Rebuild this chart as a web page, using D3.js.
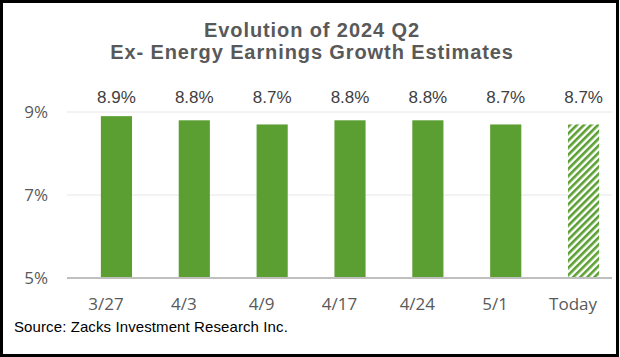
<!DOCTYPE html>
<html><head><meta charset="utf-8">
<script src="https://cdnjs.cloudflare.com/ajax/libs/d3/7.8.5/d3.min.js"></script>
<style>body{margin:0;background:#fff}svg{display:block}</style>
</head><body>
<script>
const categories = ["3/27","4/3","4/9","4/17","4/24","5/1","Today"];
const values = [8.9, 8.8, 8.7, 8.8, 8.8, 8.7, 8.7];
const hatched = [false,false,false,false,false,false,true];
const yTicks = [5, 7, 9];
const titleLines = ["Evolution of 2024 Q2","Ex- Energy Earnings Growth Estimates"];
const source = "Source: Zacks Investment Research Inc.";

const W = 620, H = 357;
const svg = d3.select("body").append("svg").attr("width", W).attr("height", H);
const green = "#5b9f32";

const defs = svg.append("defs");
const pat = defs.append("pattern").attr("id","hatch").attr("patternUnits","userSpaceOnUse")
  .attr("width",5).attr("height",5).attr("patternTransform","rotate(45)");
pat.append("rect").attr("width",5).attr("height",5).attr("fill","#fff");
pat.append("rect").attr("x",0).attr("y",0).attr("width",2.6).attr("height",5).attr("fill",green);

svg.append("rect").attr("x",1.5).attr("y",1.5).attr("width",W-4).attr("height",H-3)
  .attr("fill","#fff").attr("stroke","#000").attr("stroke-width",3);

const x = d3.scaleBand().domain(categories).range([67, 612]);
const y = d3.scaleLinear().domain([5, 9]).range([278, 112]);
const plotL = 67, plotR = 612;
const barShift = x.bandwidth() * 0.135;
const bw = x.bandwidth() * 0.4;
const cx = d => x(d) + x.bandwidth()/2;

svg.append("g").selectAll("line").data(yTicks.filter(d => d !== 5)).join("line")
  .attr("x1", plotL).attr("x2", plotR).attr("y1", d => y(d)).attr("y2", d => y(d))
  .attr("stroke", "#e6e6e6").attr("stroke-width", 1);

svg.append("g").selectAll("text").data(yTicks).join("text")
  .attr("x", 48).attr("y", d => y(d)).attr("dy", "0.36em").attr("text-anchor", "end")
  .attr("font-family", "Open Sans, sans-serif").attr("font-size", 17).attr("fill", "#595959")
  .text(d => d + "%");

svg.append("g").selectAll("rect").data(categories).join("rect")
  .attr("x", d => cx(d) + barShift - bw/2).attr("width", bw)
  .attr("y", (d,i) => y(values[i])).attr("height", (d,i) => y(5) - y(values[i]))
  .attr("fill", (d,i) => hatched[i] ? "url(#hatch)" : green);

svg.append("line").attr("x1", plotL).attr("x2", plotR).attr("y1", y(5)).attr("y2", y(5))
  .attr("stroke", "#bfbfbf").attr("stroke-width", 2);

svg.append("g").selectAll("text").data(categories).join("text")
  .attr("x", d => cx(d) + barShift).attr("y", 103).attr("text-anchor", "middle")
  .attr("font-family", "Liberation Sans, Arial, sans-serif").attr("font-size", 17).attr("fill", "#404040")
  .text((d,i) => values[i].toFixed(1) + "%");

svg.append("g").selectAll("text").data(categories).join("text")
  .attr("x", d => cx(d)).attr("y", 310).attr("text-anchor", "middle")
  .attr("font-family", "Open Sans, sans-serif").attr("font-size", 17).attr("fill", "#595959")
  .text(d => d);

svg.append("g").selectAll("text").data(titleLines).join("text")
  .attr("x", 312).attr("y", (d,i) => 37 + i*22).attr("text-anchor", "middle")
  .attr("font-family", "Liberation Sans, Arial, sans-serif").attr("font-weight", "bold")
  .attr("font-size", 20).attr("letter-spacing", 0.9).attr("fill", "#595959").text(d => d);

svg.append("text").attr("x", 14).attr("y", 332)
  .attr("font-family", "Liberation Sans, Arial, sans-serif").attr("font-size", 15).attr("fill", "#000")
  .attr("letter-spacing", 0.1)
  .text(source);
</script>
</body></html>
